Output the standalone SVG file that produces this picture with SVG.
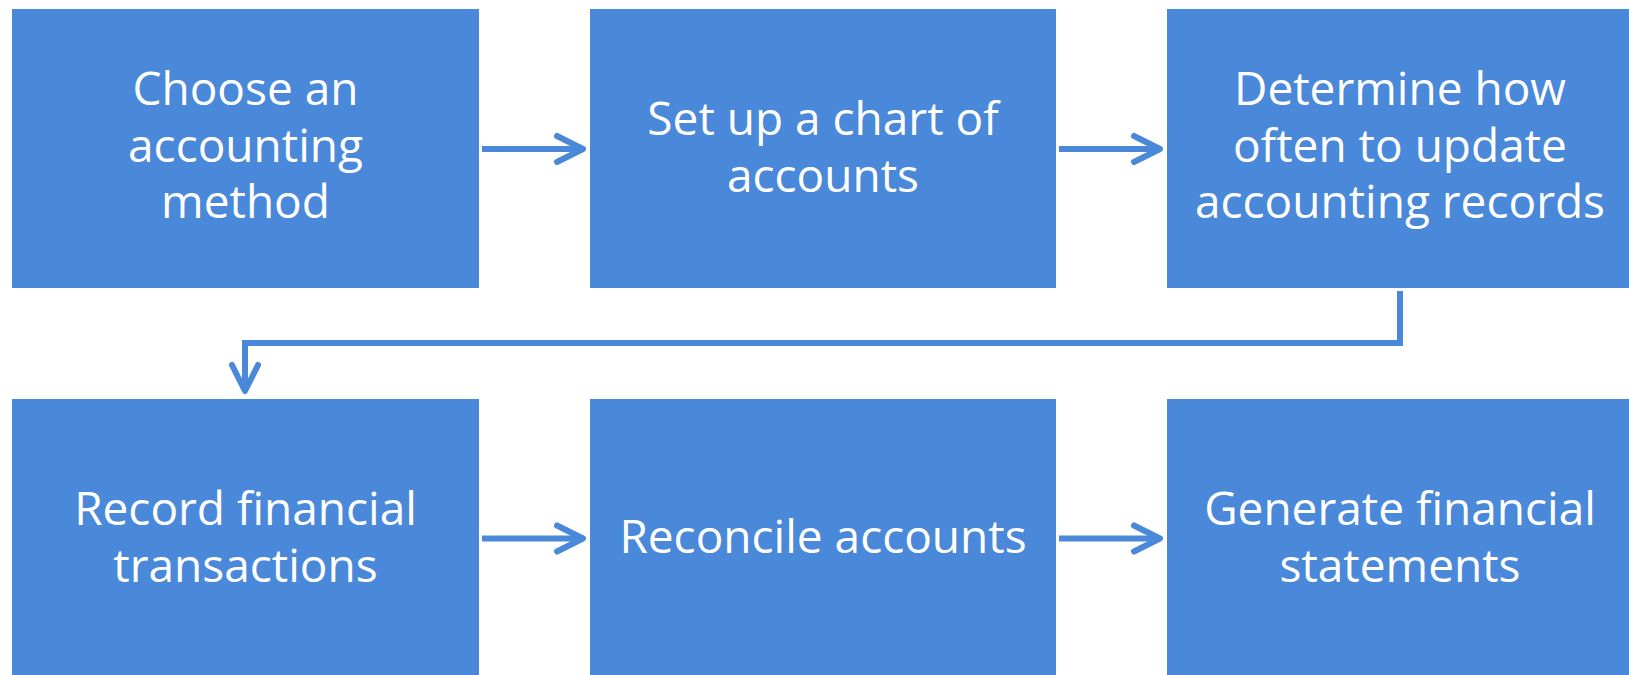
<svg xmlns="http://www.w3.org/2000/svg" width="1629" height="675" viewBox="0 0 1629 675">
<style>
.box{fill:#4a88da}
.t{font-family:"Open Sans","Liberation Sans",sans-serif;font-size:46px;fill:#ffffff;text-anchor:middle}
.ln{fill:none;stroke:#4a88da;stroke-width:6;stroke-linejoin:miter}
.hd{fill:none;stroke:#4a88da;stroke-width:6;stroke-linecap:round;stroke-linejoin:round}
</style>
<rect width="1629" height="675" fill="#ffffff"/>
<g id="n1"><rect class="box" x="12" y="9" width="467" height="279"/><text class="t"><tspan x="245.5" y="105">Choose an</tspan><tspan x="245.5" y="162">accounting</tspan><tspan x="245.5" y="218">method</tspan></text></g>
<g id="n2"><rect class="box" x="590" y="9" width="466" height="279"/><text class="t"><tspan x="823" y="134.5">Set up a chart of</tspan><tspan x="823" y="191.5">accounts</tspan></text></g>
<g id="n3"><rect class="box" x="1167" y="9" width="467" height="279"/><text class="t"><tspan x="1400" y="105">Determine how</tspan><tspan x="1400" y="162">often to update</tspan><tspan x="1400" y="218">accounting records</tspan></text></g>
<g id="n4"><rect class="box" x="12" y="399" width="467" height="279"/><text class="t"><tspan x="245.5" y="524.5">Record financial</tspan><tspan x="245.5" y="581.5">transactions</tspan></text></g>
<g id="n5"><rect class="box" x="590" y="399" width="466" height="279"/><text class="t"><tspan x="823" y="553">Reconcile accounts</tspan></text></g>
<g id="n6"><rect class="box" x="1167" y="399" width="467" height="279"/><text class="t"><tspan x="1400" y="524.5">Generate financial</tspan><tspan x="1400" y="581.5">statements</tspan></text></g>
<g id="connectors">
<path class="ln" d="M482 149 H582"/><polyline class="hd" points="557,136 583,149 557,162"/>
<path class="ln" d="M1059 149 H1159"/><polyline class="hd" points="1134,136 1160,149 1134,162"/>
<path class="ln" d="M482 538.5 H582"/><polyline class="hd" points="557,525.5 583,538.5 557,551.5"/>
<path class="ln" d="M1059 538.5 H1159"/><polyline class="hd" points="1134,525.5 1160,538.5 1134,551.5"/>
<path class="ln" d="M1400 291 V343 H245 V389"/><polyline class="hd" points="232,365 245,391 258,365"/>
</g>
</svg>
